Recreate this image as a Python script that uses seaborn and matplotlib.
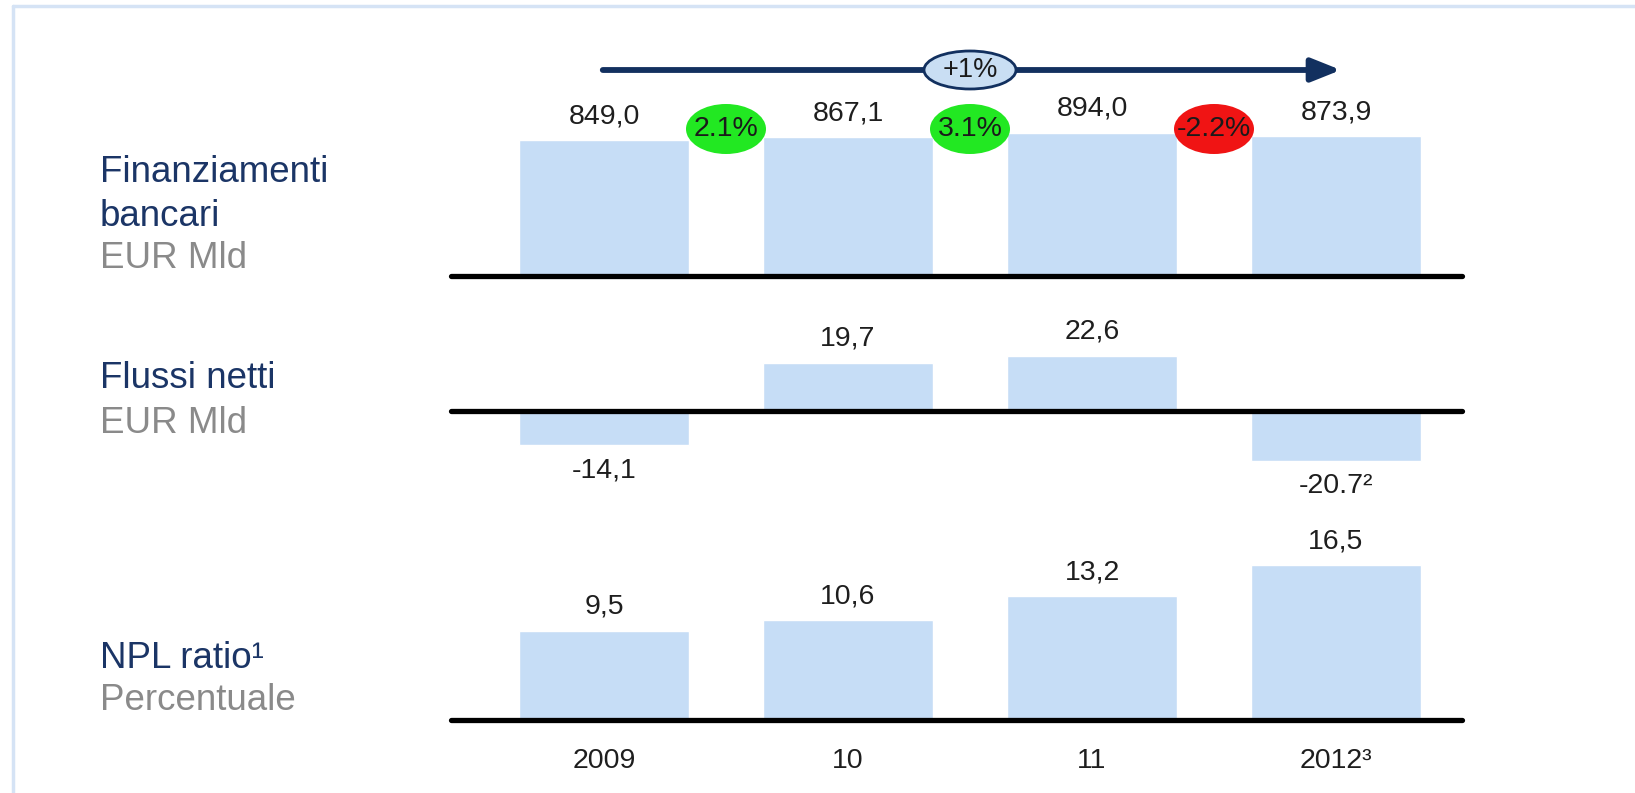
import matplotlib
matplotlib.use("Agg")
import matplotlib.pyplot as plt
from matplotlib.patches import Ellipse
from matplotlib.lines import Line2D
import seaborn as sns
import pandas as pd

# ---------------- data ----------------
years = ["2009", "10", "11", "2012³"]
finanziamenti = [849.0, 867.1, 894.0, 873.9]
flussi = [-14.1, 19.7, 22.6, -20.7]
npl = [9.5, 10.6, 13.2, 16.5]
fin_labels = ["849,0", "867,1", "894,0", "873,9"]
flussi_labels = ["-14,1", "19,7", "22,6", "-20.7²"]
npl_labels = ["9,5", "10,6", "13,2", "16,5"]
growth_labels = ["2.1%", "3.1%", "-2.2%"]
growth_colors = ["#22E822", "#22E822", "#F01414"]
cagr_label = "+1%"

row_titles = [("Finanziamenti", "bancari"), ("Flussi netti",), ("NPL ratio¹",)]
row_units = ["EUR Mld", "EUR Mld", "Percentuale"]

# ---------------- style ----------------
sns.set_theme(style="white")
plt.rcParams["font.family"] = ["Liberation Sans", "DejaVu Sans"]

BAR = "#C6DDF6"
NAVY = "#1B3566"
ARROW = "#12305F"
GRAY = "#8A8A8A"
TXT = "#1E1E1E"

W, H = 1635, 793
fig = plt.figure(figsize=(W / 100, H / 100), dpi=100)
fig.patch.set_facecolor("white")

# border lines (light blue frame)
fig.add_artist(Line2D([12.5 / W, 1], [1 - 6 / H, 1 - 6 / H], color="#D5E3F5", lw=2.5))
fig.add_artist(Line2D([12.5 / W, 12.5 / W], [0, 1 - 6 / H], color="#D5E3F5", lw=2.5))

x_left, x_right = 451, 1462
c0, step = 604, 244
xlim = ((x_left - c0) / step, (x_right - c0) / step)


def make_ax(top_px, bottom_px):
    ax = fig.add_axes([x_left / W, 1 - bottom_px / H, (x_right - x_left) / W,
                       (bottom_px - top_px) / H])
    ax.patch.set_alpha(0)
    return ax


def style_ax(ax, ylim):
    ax.set_xlim(*xlim)
    ax.set_ylim(*ylim)
    ax.axis("off")
    ax.axhline(0, color="black", lw=3.8, clip_on=False, zorder=5,
               solid_capstyle="round")


PT = 100 / 72.0  # px per point
fs_val = 20.5

# ---- Panel 1: Finanziamenti bancari ----
ax1 = make_ax(20, 276)
df1 = pd.DataFrame({"year": years, "val": finanziamenti})
sns.barplot(data=df1, x="year", y="val", color=BAR, saturation=1, width=0.7,
            ax=ax1, zorder=2)
style_ax(ax1, (0, 256 * 6.25))
for i, (v, lab) in enumerate(zip(finanziamenti, fin_labels)):
    ax1.annotate(lab, (i, v), xytext=(0, 24 / PT), textcoords="offset points",
                 ha="center", va="center", fontsize=fs_val, color=TXT)

# growth ellipses between bars
ey = (276 - 129) * 6.25
for i, (lab, col) in enumerate(zip(growth_labels, growth_colors)):
    xc = i + 0.5
    ax1.add_patch(Ellipse((xc, ey), 80 / step, 50 * 6.25, facecolor=col,
                          edgecolor="none", zorder=6, clip_on=False))
    ax1.text(xc, ey, lab, ha="center", va="center", fontsize=fs_val,
             color="#1A1A1A", zorder=7)

# CAGR arrow
ay = (276 - 70) * 6.25
ax1.annotate("", xy=(3.02, ay), xytext=(-0.005, ay),
             arrowprops=dict(arrowstyle="-|>,head_length=0.8,head_width=0.32",
                             lw=4.2, color=ARROW, shrinkA=0, shrinkB=0,
                             mutation_scale=22),
             annotation_clip=False, zorder=6)
ax1.add_patch(Ellipse((1.5, ay), 92 / step, 38 * 6.25, facecolor="#C9DEF3",
                      edgecolor=ARROW, lw=2, zorder=7, clip_on=False))
ax1.text(1.5, ay, cagr_label, ha="center", va="center", fontsize=19.5,
         color="#1A1A1A", zorder=8)

# ---- Panel 2: Flussi netti ----
s2 = 0.412
ax2 = make_ax(290, 500)
df2 = pd.DataFrame({"year": years, "val": flussi})
sns.barplot(data=df2, x="year", y="val", color=BAR, saturation=1, width=0.7,
            ax=ax2, zorder=2)
style_ax(ax2, (-(500 - 411) * s2, (411 - 290) * s2))
for i, (v, lab) in enumerate(zip(flussi, flussi_labels)):
    off = 25 if v >= 0 else -25
    ax2.annotate(lab, (i, v), xytext=(0, off / PT), textcoords="offset points",
                 ha="center", va="center", fontsize=fs_val, color=TXT)

# ---- Panel 3: NPL ratio ----
s3 = 0.1065
ax3 = make_ax(500, 720)
df3 = pd.DataFrame({"year": years, "val": npl})
sns.barplot(data=df3, x="year", y="val", color=BAR, saturation=1, width=0.7,
            ax=ax3, zorder=2)
style_ax(ax3, (0, 220 * s3))
for i, (v, lab) in enumerate(zip(npl, npl_labels)):
    ax3.annotate(lab, (i, v), xytext=(0, 24 / PT), textcoords="offset points",
                 ha="center", va="center", fontsize=fs_val, color=TXT)
for i, y in enumerate(years):
    ax3.annotate(y, (i, 0), xytext=(0, -41 / PT), textcoords="offset points",
                 ha="center", va="center", fontsize=fs_val, color=TXT,
                 annotation_clip=False)

# ---- Row labels ----
lx = 100 / W
fs_row = 26.5
title_pos = [[172, 216], [379], [658]]
unit_pos = [258, 423, 701]
for titles, ys, unit, uy in zip(row_titles, title_pos, row_units, unit_pos):
    for t, y in zip(titles, ys):
        fig.text(lx, 1 - y / H, t, ha="left", va="center", fontsize=fs_row,
                 color=NAVY)
    fig.text(lx, 1 - uy / H, unit, ha="left", va="center", fontsize=fs_row,
             color=GRAY)

fig.savefig("out.png", dpi=100, facecolor="white")
